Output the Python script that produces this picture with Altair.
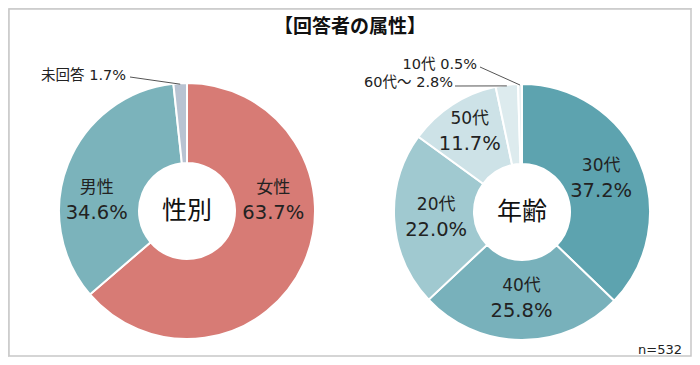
import math
import altair as alt
import pandas as pd

# ---------------- data ----------------
title_text = "【回答者の属性】"
gender_cats = ["女性", "男性", "未回答"]
gender_vals = [63.7, 34.6, 1.7]
age_cats = ["30代", "40代", "20代", "50代", "60代～", "10代"]
age_vals = [37.2, 25.8, 22.0, 11.7, 2.8, 0.5]
center_labels = ["性別", "年齢"]
n_label = "n=532"

# ---------------- style / layout ----------------
FONT = "DejaVu Sans, Noto Sans CJK JP"
CJK = "Noto Sans CJK JP"
gender_colors = ["#D77B75", "#7BB3BB", "#B8C3D2"]
age_colors = ["#5DA3AF", "#78B1BB", "#A0C9D0", "#CDE2E7", "#DDEBEE", "#E8F0F2"]
W, H = 684, 349
L_CX, L_CY = 179, 203
R_CX, R_CY = 514, 204
R_OUT, R_IN = 128, 48
TXT = "#222222"

inside_override = {"女性": (82.7, 87), "男性": (277, 91), "50代": (None, 96)}
inside_radius = 86
leader_layout = {
    "未回答": ((118, 68), (122, 69)),
    "60代～": ((445, 75), (447, 78)),
    "10代": ((469, 57), (472, 59)),
}


def polar(cx, cy, ang, r):
    a = math.radians(ang)
    return cx + r * math.sin(a), cy - r * math.cos(a)


def build(cats, vals, cx, cy):
    arcs = pd.DataFrame({"cat": cats, "value": vals, "ord": list(range(len(cats)))})
    total = sum(vals)
    inside, leaders, lines = [], [], []
    cum = 0.0
    for c, v in zip(cats, vals):
        mid = (cum + v / 2) / total * 360
        cum += v
        pct = f"{v:.1f}%"
        if c in leader_layout:
            (tx, ty), (sx, sy) = leader_layout[c]
            ex, ey = polar(cx, cy, mid, R_OUT - 1)
            leaders.append({"t": f"{c} {pct}", "px": tx, "py": ty})
            lines.append({"x1": sx, "y1": sy, "x2": ex, "y2": ey})
        else:
            ang, r = inside_override.get(c, (None, None))
            ang = mid if ang is None else ang
            r = inside_radius if r is None else r
            px, py = polar(cx, cy, ang, r)
            inside.append({"name": c, "pct": pct, "px": px, "py": py})
    return arcs, pd.DataFrame(inside), pd.DataFrame(leaders), pd.DataFrame(lines)


def donut_layers(cats, vals, colors, cx, cy, center):
    arcs, inside, leaders, lines = build(cats, vals, cx, cy)
    arc = alt.Chart(arcs).mark_arc(
        outerRadius=R_OUT, innerRadius=R_IN, stroke="white", strokeWidth=2
    ).encode(
        theta=alt.Theta("value:Q", stack=True),
        order=alt.Order("ord:Q"),
        color=alt.Color("cat:N", scale=alt.Scale(domain=cats, range=colors), legend=None),
        x=alt.value(cx),
        y=alt.value(cy),
    )
    name = alt.Chart(inside).mark_text(font=FONT, fontSize=17, color=TXT, dy=-12).encode(
        x=alt.X("px:Q", scale=None), y=alt.Y("py:Q", scale=None), text="name:N"
    )
    pct = alt.Chart(inside).mark_text(font=FONT, fontSize=19.5, color=TXT, dy=13).encode(
        x=alt.X("px:Q", scale=None), y=alt.Y("py:Q", scale=None), text="pct:N"
    )
    layers = [arc, name, pct]
    if len(leaders):
        ltxt = alt.Chart(leaders).mark_text(font=FONT, fontSize=14.5, color=TXT, align="right").encode(
            x=alt.X("px:Q", scale=None), y=alt.Y("py:Q", scale=None), text="t:N"
        )
        lrule = alt.Chart(lines).mark_rule(color="#555555", strokeWidth=1).encode(
            x=alt.X("x1:Q", scale=None), y=alt.Y("y1:Q", scale=None),
            x2="x2:Q", y2="y2:Q",
        )
        layers += [lrule, ltxt]
    ctr = alt.Chart(pd.DataFrame({"t": [center]})).mark_text(
        font=CJK, fontSize=25, color="#111111"
    ).encode(x=alt.value(cx), y=alt.value(cy), text="t:N")
    layers.append(ctr)
    return layers


left = donut_layers(gender_cats, gender_vals, gender_colors, L_CX, L_CY, center_labels[0])
right = donut_layers(age_cats, age_vals, age_colors, R_CX, R_CY, center_labels[1])

title = alt.Chart(pd.DataFrame({"t": [title_text]})).mark_text(
    font=CJK, fontSize=19, fontWeight="bold", color="#111111"
).encode(x=alt.value(342), y=alt.value(19), text="t:N")

nlab = alt.Chart(pd.DataFrame({"t": [n_label]})).mark_text(
    font=FONT, fontSize=13, color=TXT, align="right"
).encode(x=alt.value(674), y=alt.value(342), text="t:N")

border = alt.Chart(pd.DataFrame({"k": [0]})).mark_rect(
    fill="white", fillOpacity=0, stroke="#C8C8C8", strokeWidth=1.5
).encode(x=alt.value(1), x2=alt.value(W - 1), y=alt.value(1), y2=alt.value(H - 1))

chart = alt.layer(border, *left, *right, title, nlab).resolve_scale(
    theta="independent", color="independent"
).properties(
    width=W, height=H, padding=0, autosize=alt.AutoSizeParams(type="none")
).configure_view(stroke=None).configure(background="white")

chart.save("out.html", embed_options={"renderer": "svg", "actions": False})
